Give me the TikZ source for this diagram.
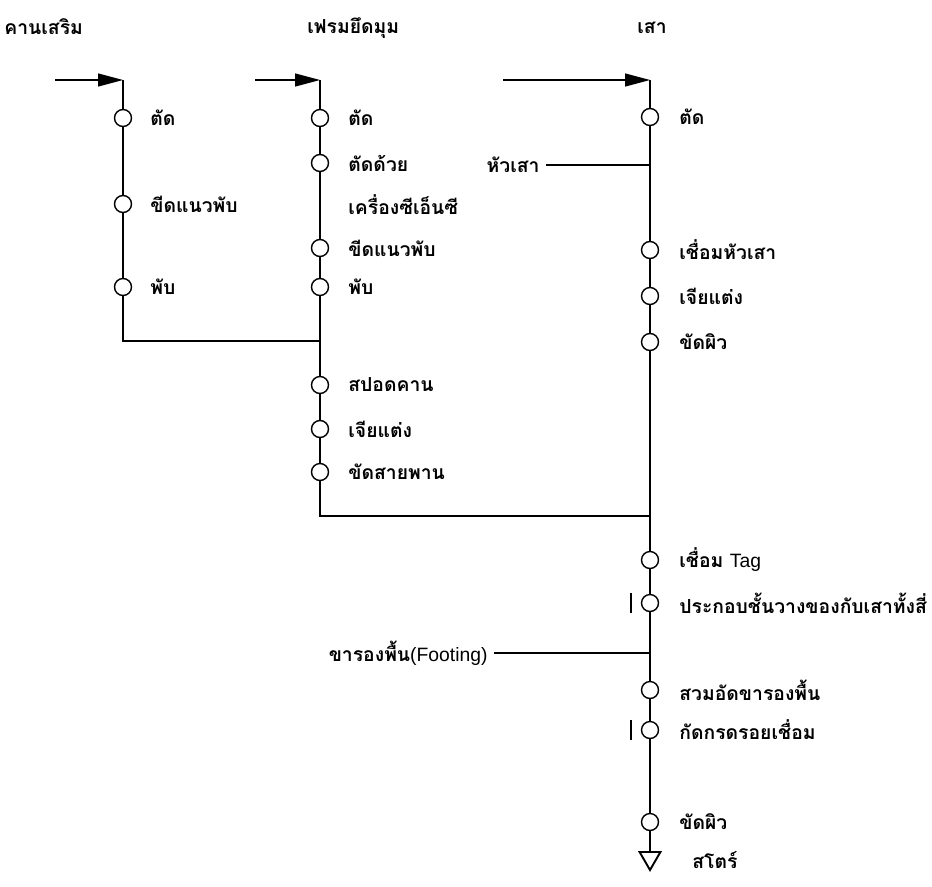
\documentclass[tikz,border=0pt]{standalone}
\usepackage{fontspec}
\newfontfamily\thaifont[Script=Thai]{Loma}
\newfontfamily\latinfont{Liberation Sans}
\usetikzlibrary{arrows.meta,shapes.geometric}

\begin{document}
\begin{tikzpicture}[x=.02cm,y=-.02cm,line width=.7pt,
  font=\thaifont\bfseries\fontsize{11}{13}\selectfont,
  op/.style={circle,draw,line width=.8pt,fill=white,inner sep=0pt,minimum size=.34cm},
  lab/.style={anchor=west,inner sep=1pt},
  feed/.style={-{Triangle[length=.5cm,width=.26cm]}},
  store/.style={regular polygon,regular polygon sides=3,shape border rotate=180,
    draw,line width=1.1pt,fill=white,inner sep=0pt,minimum size=.48cm}]
  \useasboundingbox (0,0) rectangle (932,886);
  \node[lab] (t1) at (2,27) {คานเสริม};
  \node[lab] (t2) at (305,28) {เฟรมยึดมุม};
  \node[lab] (t3) at (635,28) {เสา};
  \foreach \n/\a/\b in {1/55/123, 2/255/320, 3/503/650} {
    \coordinate (s\n) at (\a,80); \coordinate (top\n) at (\b,80);
    \draw[feed] (s\n) -- (top\n);
  }
  % คานเสริม
  \foreach \n/\y/\t in {1/118/ตัด, 2/204/ขีดแนวพับ, 3/287/พับ} {
    \node[op] (a\n) at (123,\y) {};
    \node[lab] (la\n) at (148,\y) {\t};
  }
  \coordinate (j1) at (123,341); \coordinate (j2) at (320,341);
  \draw (top1) -- (a1) -- (a2) -- (a3) -- (j1) -- (j2);
  % เฟรมยึดมุม
  \foreach \n/\y/\t in {1/118/ตัด, 2/163/ตัดด้วย, 3/248/ขีดแนวพับ, 4/287/พับ,
      5/385/สปอดคาน, 6/429/เจียแต่ง, 7/472/ขัดสายพาน} {
    \node[op] (b\n) at (320,\y) {};
    \node[lab] (lb\n) at (346,\y) {\t};
  }
  \node[lab] (lb2x) at (346,205) {เครื่องซีเอ็นซี};
  \coordinate (j3) at (320,516); \coordinate (j4) at (650,516);
  \draw (top2) -- (b1) -- (b2) -- (b3) -- (b4) -- (b5) -- (b6) -- (b7) -- (j3) -- (j4);
  % เสา
  \foreach \n/\y/\t in {1/117/ตัด, 2/250/เชื่อมหัวเสา, 3/296/เจียแต่ง, 4/342/ขัดผิว,
      5/560/เชื่อม {\latinfont\mdseries Tag}, 6/603/ประกอบชั้นวางของกับเสาทั้งสี่,
      7/690/สวมอัดขารองพื้น, 8/730/กัดกรดรอยเชื่อม, 9/822/ขัดผิว} {
    \node[op] (c\n) at (650,\y) {};
    \node[lab] (lc\n) at (677,\y) {\t};
  }
  \node[store] (st) at (650,858) {};
  \node[lab] (lst) at (690,860) {สโตร์};
  \draw (top3) -- (c1) -- (c2) -- (c3) -- (c4) -- (c5) -- (c6) -- (c7) -- (c8) -- (c9) -- (st);
  \foreach \n in {6,8}
    \draw ([xshift=-.38cm,yshift=.2cm]c\n.center) -- ([xshift=-.38cm,yshift=-.2cm]c\n.center);
  % หัวเสา / ขารองพื้น
  \node[anchor=east] (hd) at (546,165) {หัวเสา};
  \coordinate (jh) at (650,165);
  \draw (hd) -- (jh);
  \node[anchor=east] (ft) at (494,653) {ขารองพื้น{\latinfont\mdseries(Footing)}};
  \coordinate (jf) at (650,653);
  \draw (ft) -- (jf);
\end{tikzpicture}
\end{document}
